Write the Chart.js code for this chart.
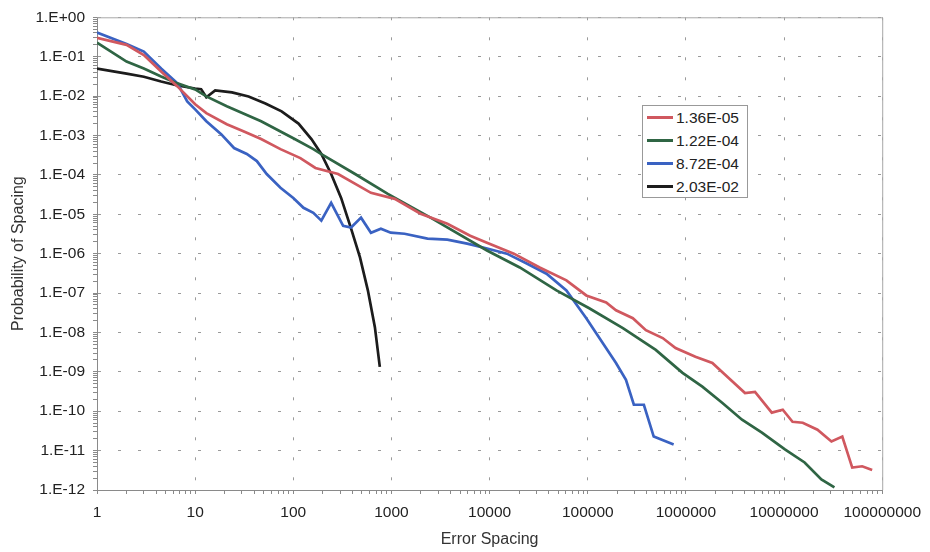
<!DOCTYPE html>
<html>
<head>
<meta charset="utf-8">
<script src="https://cdn.jsdelivr.net/npm/chart.js@4"></script>
<style>
	body { margin: 0; background: #fff; }
	#wrap { position: relative; width: 930px; height: 552px; }
	#legend {
		position: absolute; left: 642px; top: 105px; width: 104px; height: 91px;
		border: 1px solid #999; background: #fff;
		font-family: 'Liberation Sans', Arial, sans-serif; font-size: 15.5px; color: #222;
	}
	#legend .row { position: absolute; left: 4px; height: 18px; line-height: 18px; white-space: nowrap; }
	#legend .swatch { display: inline-block; width: 26px; height: 3px; vertical-align: middle; margin-right: 3px; position: relative; top: -1px; }
</style>
</head>
<body>
<div id="wrap">
	<canvas id="lineChart" width="930" height="552"></canvas>
	<div id="legend"></div>
</div>
<script>
'use strict';

// series (x = error spacing, y = probability)
var redX = [1, 2, 3, 4.5, 6.6, 10, 13, 21, 31, 47, 74, 118, 168, 286, 618, 1080, 1980, 3710, 6340, 9400, 17650, 32350, 60600, 96600, 154000, 194000, 288000, 391000, 580000, 785000, 1.25e6, 1.86e6, 2.51e6, 4.0e6, 5.06e6, 7.5e6, 9.7e6, 1.22e7, 1.55e7, 2.19e7, 3.04e7, 3.92e7, 4.95e7, 6.25e7, 7.9e7];
var redY = [0.30, 0.20, 0.11, 0.042, 0.0176, 0.0062, 0.0037, 0.00193, 0.00128, 8.1e-4, 4.5e-4, 2.67e-4, 1.5e-4, 1.05e-4, 3.5e-5, 2.46e-5, 1.03e-5, 5.75e-6, 2.86e-6, 1.9e-6, 1.0e-6, 4.46e-7, 2.1e-7, 8.7e-8, 5.8e-8, 3.66e-8, 2.3e-8, 1.14e-8, 7.2e-9, 4.0e-9, 2.4e-9, 1.68e-9, 8.4e-10, 2.9e-10, 3.1e-10, 9.2e-11, 1.09e-10, 5.4e-11, 5.1e-11, 3.4e-11, 1.7e-11, 2.27e-11, 3.7e-12, 4.0e-12, 3.2e-12];

var greenX = [1, 2, 3, 4.5, 6.6, 10, 13, 21, 47, 100, 160, 193, 426, 918, 2500, 9400, 20300, 48000, 103500, 228000, 493000, 924000, 1.47e6, 2.34e6, 3.73e6, 5.95e6, 1.02e7, 1.62e7, 2.4e7, 3.26e7];
var greenY = [0.227, 0.075, 0.05, 0.0314, 0.021, 0.0148, 0.0098, 0.0055, 0.0023, 8.5e-4, 4.5e-4, 3.37e-4, 1.05e-4, 3.3e-5, 8.2e-6, 1.2e-6, 4.46e-7, 1.17e-7, 4.1e-8, 1.29e-8, 3.6e-9, 9.4e-10, 4.2e-10, 1.64e-10, 6.1e-11, 2.86e-11, 1.07e-11, 5.0e-12, 1.86e-12, 1.17e-12];

var blueX = [1, 2, 3, 4.5, 6.6, 8.3, 10, 13, 18.4, 24.9, 33.6, 42.5, 53.6, 74, 100, 127, 160, 193, 243, 322, 388, 490, 618, 780, 984, 1360, 2330, 3710, 5910, 9420, 15000, 23900, 38000, 60600, 96600, 122000, 194000, 245000, 295000, 373000, 470000, 750000];
var blueY = [0.41, 0.21, 0.135, 0.05, 0.021, 0.0073, 0.0046, 0.0023, 0.00108, 4.8e-4, 3.4e-4, 2.24e-4, 1.05e-4, 4.7e-5, 2.6e-5, 1.46e-5, 1.09e-5, 6.9e-6, 1.95e-5, 5.1e-6, 4.6e-6, 8.2e-6, 3.4e-6, 4.3e-6, 3.4e-6, 3.2e-6, 2.4e-6, 2.27e-6, 1.8e-6, 1.35e-6, 1.0e-6, 5.6e-7, 3.1e-7, 1.17e-7, 2.3e-8, 9.6e-9, 1.68e-9, 6.3e-10, 1.46e-10, 1.46e-10, 2.27e-11, 1.43e-11];

var blackX = [1, 2, 3, 4.5, 6.6, 10, 11.5, 13, 16, 23.7, 35, 52, 76, 113, 153, 193, 243, 307, 388, 478, 575, 678, 761];
var blackY = [0.05, 0.037, 0.031, 0.0235, 0.0186, 0.0156, 0.015, 0.0093, 0.0139, 0.0124, 0.0098, 0.0065, 0.0041, 0.002, 8.1e-4, 3.4e-4, 1.05e-4, 2.6e-5, 4.3e-6, 8e-7, 1.17e-7, 1.36e-8, 1.33e-9];

var seriesLabels = ['1.36E-05', '1.22E-04', '8.72E-04', '2.03E-02'];
var seriesColors = ['#d0585f', '#2f6544', '#3a62c2', '#1c1c1c'];

var xDecades = [0, 8];    // 1 .. 100000000
var yDecades = [-12, 0];  // 1.E-12 .. 1.E+00

var FONT = "'Liberation Sans', Arial, sans-serif";

function points(xs, ys) {
	var out = [];
	for (var i = 0; i < xs.length; i++) {
		out.push({x: xs[i], y: ys[i]});
	}
	return out;
}

// 1..9 x 10^n ticks, only the powers of ten are major
function logTicks(range) {
	var ticks = [];
	for (var e = range[0]; e <= range[1]; e++) {
		for (var s = 1; s <= 9; s++) {
			if (e === range[1] && s > 1) break;
			ticks.push({value: parseFloat(s + 'e' + e), major: s === 1});
		}
	}
	return ticks;
}

function pad2(n) {
	return n < 10 ? '0' + n : '' + n;
}

var frame = {
	id: 'frame',
	afterDraw: function(chart) {
		var a = chart.chartArea, ctx = chart.ctx;
		ctx.save();
		ctx.strokeStyle = '#a8a8a8';
		ctx.lineWidth = 1;
		ctx.beginPath();
		ctx.moveTo(a.left, a.top + 0.5);
		ctx.lineTo(a.right + 0.5, a.top + 0.5);
		ctx.lineTo(a.right + 0.5, a.bottom);
		ctx.stroke();
		ctx.restore();
	}
};

var datasets = [
	{data: points(redX, redY)},
	{data: points(greenX, greenY)},
	{data: points(blueX, blueY)},
	{data: points(blackX, blackY)}
];
for (var i = 0; i < datasets.length; i++) {
	datasets[i].label = seriesLabels[i];
	datasets[i].borderColor = seriesColors[i];
	datasets[i].backgroundColor = seriesColors[i];
	datasets[i].borderWidth = 2.7;
	datasets[i].pointRadius = 0;
	datasets[i].tension = 0;
	datasets[i].fill = false;
}

function gridColor(ctx) {
	return ctx.tick && ctx.tick.major ? '#9a9a9a' : 'rgba(0,0,0,0)';
}

new Chart(document.getElementById('lineChart'), {
	type: 'line',
	data: {datasets: datasets},
	plugins: [frame],
	options: {
		responsive: false,
		animation: false,
		devicePixelRatio: 1,
		layout: {padding: {top: 15, right: 42, left: 0, bottom: 0}},
		plugins: {legend: {display: false}, tooltip: {enabled: false}},
		scales: {
			x: {
				type: 'logarithmic',
				min: 1,
				max: 1e8,
				afterBuildTicks: function(scale) { scale.ticks = logTicks(xDecades); },
				afterFit: function(scale) { scale.height = 62; },
				grid: {color: gridColor, tickColor: '#8a8a8a', tickLength: 4, lineWidth: 1},
				border: {color: '#8a8a8a', dash: [3, 17]},
				ticks: {
					autoSkip: false, maxRotation: 0, minRotation: 0, padding: 9,
					color: '#222', font: {family: FONT, size: 15.5},
					callback: function(v, idx, ticks) {
						return ticks[idx].major ? String(Math.round(v)) : '';
					}
				},
				title: {display: true, text: 'Error Spacing', color: '#333', font: {family: FONT, size: 16}, padding: {top: 0, bottom: 3}}
			},
			y: {
				type: 'logarithmic',
				min: 1e-12,
				max: 1,
				afterBuildTicks: function(scale) { scale.ticks = logTicks(yDecades); },
				afterFit: function(scale) { scale.width = 97; },
				grid: {color: gridColor, tickColor: '#8a8a8a', tickLength: 4, lineWidth: 1},
				border: {color: '#8a8a8a', dash: [3, 17]},
				ticks: {
					autoSkip: false, padding: 8,
					color: '#222', font: {family: FONT, size: 15.5},
					callback: function(v, idx, ticks) {
						if (!ticks[idx].major) return '';
						var e = Math.round(Math.log10(v));
						return '1.E' + (e < 0 ? '-' : '+') + pad2(Math.abs(e));
					}
				},
				title: {display: true, text: 'Probability of Spacing', color: '#333', font: {family: FONT, size: 16}, padding: {top: 9, bottom: 0}}
			}
		}
	}
});

// legend box sits inside the plot, right of centre
var legend = document.getElementById('legend');
for (var j = 0; j < seriesLabels.length; j++) {
	var row = document.createElement('div');
	row.className = 'row';
	row.style.top = (3 + j * 23) + 'px';
	row.innerHTML = '<span class="swatch" style="background:' + seriesColors[j] + '"></span>' + seriesLabels[j];
	legend.appendChild(row);
}
</script>
</body>
</html>
